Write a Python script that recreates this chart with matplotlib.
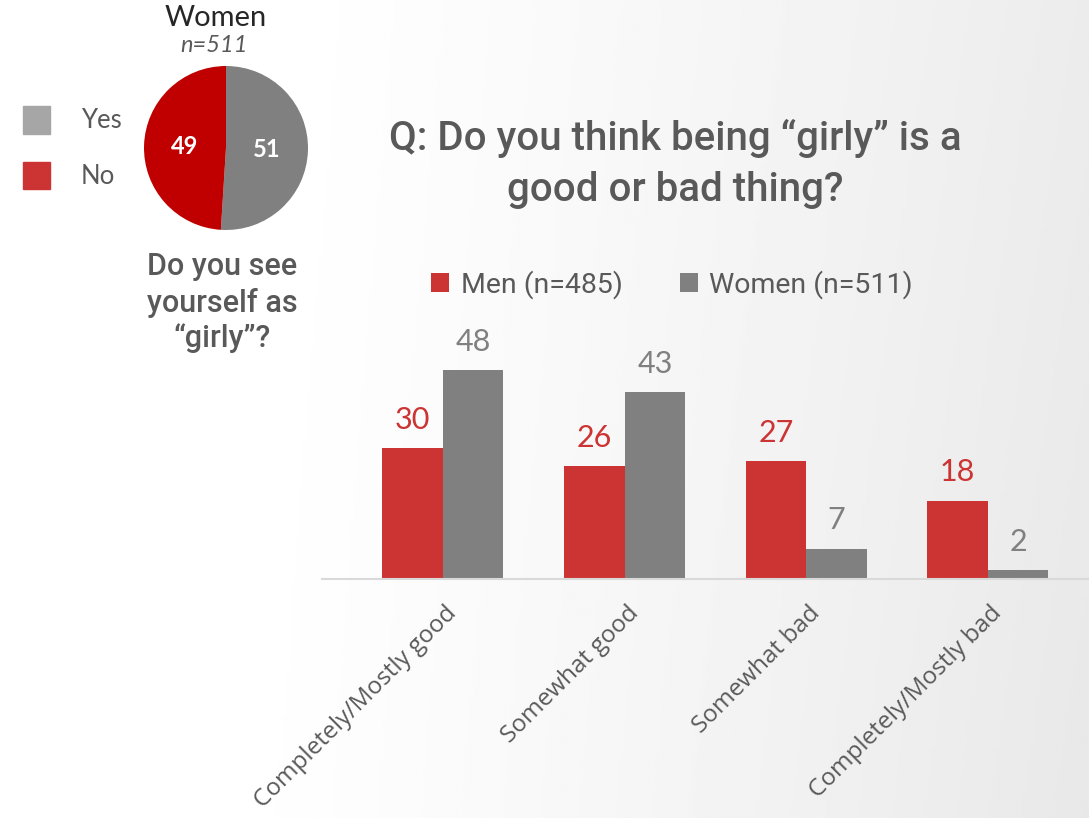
import numpy as np
import matplotlib
matplotlib.use("Agg")
import matplotlib.pyplot as plt

# bar chart data
categories = ["Completely/Mostly good", "Somewhat good", "Somewhat bad", "Completely/Mostly bad"]
men = [30, 26, 27, 18]
women = [48, 43, 7, 2]
series_names = ["Men (n=485)", "Women (n=511)"]

# pie data
pie_labels = ["Yes", "No"]
pie_values = [51, 49]

RED = "#CC3333"
GRAY = "#808080"
PIE_RED = "#C00000"
TXT = "#595959"
NARROW = ["Liberation Sans Narrow", "Lato", "DejaVu Sans"]
DIN = ["Roboto", "DejaVu Sans"]

fig = plt.figure(figsize=(10.89, 8.18), dpi=100)

# background gradient
bg = fig.add_axes([0, 0, 1, 1], zorder=-10)
xx, yy = np.meshgrid(np.linspace(0, 1, 300), np.linspace(0, 1, 300))
shade = 1.0 - 0.075 * np.clip((xx - 0.25) / 0.75, 0, 1) ** 1.2 - 0.015 * yy * xx
bg.imshow(shade, cmap="gray", vmin=0, vmax=1, aspect="auto", extent=[0, 1, 0, 1], origin="upper")
bg.axis("off")

W, H = 1089, 818

# ---- bar chart ----
ax = fig.add_axes([322 / W, (H - 579) / H, (1089 - 322) / W, 261.2 / H])
ax.set_facecolor("none")
x = np.arange(len(categories))
bw = 0.333
ax.bar(x - bw / 2, men, bw, color=RED, label=series_names[0])
ax.bar(x + bw / 2, women, bw, color=GRAY, label=series_names[1])
for i in range(len(categories)):
    ax.text(x[i] - bw / 2, men[i] + 6.5, str(men[i]), ha="center", va="center",
            color=RED, fontsize=22, family=NARROW)
    ax.text(x[i] + bw / 2, women[i] + 6.5, str(women[i]), ha="center", va="center",
            color=GRAY, fontsize=22, family=NARROW)
ax.set_xlim(-0.666, 3.556)
ax.set_ylim(0, 60)
ax.set_yticks([])
ax.set_xticks(x + 0.01)
ax.set_xticklabels(categories, rotation=45, ha="right", va="top", rotation_mode="anchor",
                   color=TXT, fontsize=17.5, family=["Open Sans", "DejaVu Sans"])
ax.tick_params(axis="x", length=0, pad=16)
for s in ["top", "left", "right"]:
    ax.spines[s].set_visible(False)
ax.spines["bottom"].set_color("#d9d9d9")
ax.spines["bottom"].set_linewidth(1.5)

leg = fig.legend(loc="center", bbox_to_anchor=(672 / W, 1 - 285 / H), ncol=2, frameon=False,
                 handlelength=0.65, handleheight=0.65, handletextpad=0.4, columnspacing=2.0,
                 prop={"family": DIN, "size": 20.5})
for t in leg.get_texts():
    t.set_color(TXT)

fig.text(675 / W, 1 - 138 / H, "Q: Do you think being \u201cgirly\u201d is a", ha="center", va="center",
         color=TXT, fontsize=29, family=DIN, fontweight="medium")
fig.text(675 / W, 1 - 190 / H, "good or bad thing?", ha="center", va="center",
         color=TXT, fontsize=29, family=DIN, fontweight="medium")

# ---- pie ----
pax = fig.add_axes([144 / W, (H - 230) / H, 164 / W, 164 / H])
wedges, texts = pax.pie(pie_values, colors=[GRAY, PIE_RED], startangle=90, counterclock=False,
                        labels=[str(v) for v in pie_values], labeldistance=0.5,
                        textprops={"color": "white", "fontsize": 17, "fontweight": "bold",
                                   "family": ["Lato", "DejaVu Sans"], "ha": "center", "va": "center"})
pax.set_xlim(-1, 1)
pax.set_ylim(-1, 1)
pax.set_aspect("equal")

fig.text(216 / W, 1 - 18 / H, "Women", ha="center", va="center", color="#262626",
         fontsize=21, family=["Lato", "DejaVu Sans"])
fig.text(214 / W, 1 - 45 / H, "n=511", ha="center", va="center", color=TXT,
         fontsize=17, style="italic", family=["Lato", "DejaVu Sans"])

# pie legend (colours as in the source slide)
leg_colors = ["#A6A6A6", RED]
leg_y = [120, 175]
for lab, c, yc in zip(pie_labels, leg_colors, leg_y):
    fig.patches.append(plt.Rectangle((23 / W, 1 - (yc + 13.5) / H), 27 / W, 27 / H,
                                     transform=fig.transFigure, color=c))
    fig.text(81 / W, 1 - (yc + 1) / H, lab, ha="left", va="center", color=TXT,
             fontsize=18.5, family=["Lato", "DejaVu Sans"])

for yy_, line in zip([267, 303, 338], ["Do you see", "yourself as", "\u201cgirly\u201d?"]):
    fig.text(222 / W, 1 - yy_ / H, line, ha="center", va="center", color=TXT,
             fontsize=22, family=DIN, fontweight="medium")

fig.savefig("out.png", dpi=100)
